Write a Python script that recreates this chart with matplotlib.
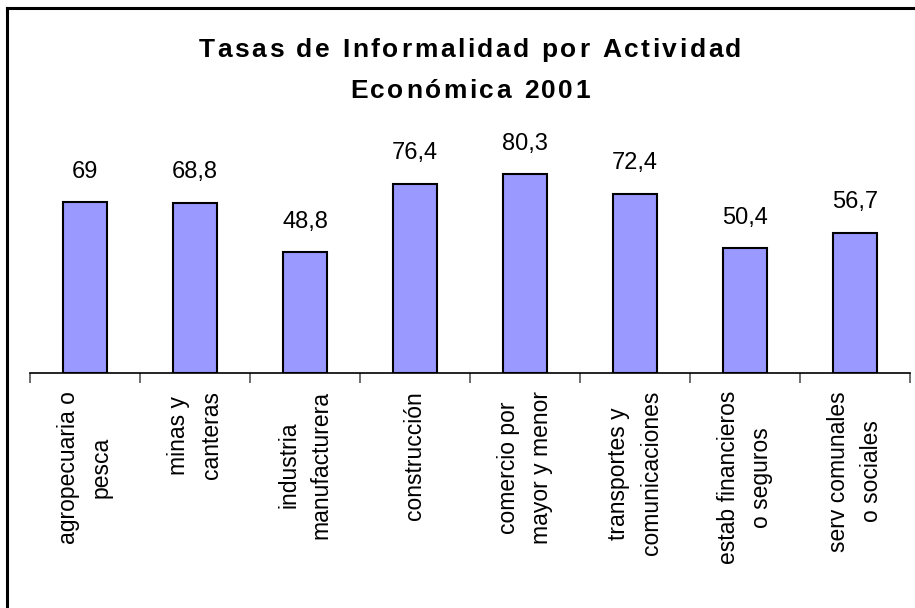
import matplotlib
matplotlib.use("Agg")
import matplotlib.pyplot as plt
from matplotlib.lines import Line2D
import numpy as np

categories = [
    "agropecuaria o\npesca",
    "minas y\ncanteras",
    "industria\nmanufacturera",
    "construcción",
    "comercio por\nmayor y menor",
    "transportes y\ncomunicaciones",
    "estab financieros\no seguros",
    "serv comunales\no sociales",
]
values = [69, 68.8, 48.8, 76.4, 80.3, 72.4, 50.4, 56.7]
title_lines = ["Tasas de Informalidad por Actividad", "Económica 2001"]

plt.rcParams["font.family"] = ["Liberation Sans", "DejaVu Sans"]

W, H = 915, 608
fig = plt.figure(figsize=(W / 100, H / 100), dpi=100)


def spaced_text(s, xc, y_base, gap, **kw):
    # draw a string char by char with extra letter spacing (Excel-like title)
    r = fig.canvas.get_renderer()
    widths = []
    for ch in s:
        t = fig.text(0, 0, ch, **kw)
        widths.append(t.get_window_extent(r).width)
        t.remove()
    total = sum(widths) + gap * (len(s) - 1)
    x = xc - total / 2
    for ch, w in zip(s, widths):
        fig.text(x / W, 1 - y_base / H, ch, ha="left", va="baseline", **kw)
        x += w + gap


# outer chart border (only left/top visible in the reference)
fig.add_artist(Line2D([7 / W, 7 / W], [0, 1 - 8 / H], color="black", lw=2.2))
fig.add_artist(Line2D([7 / W, 1], [1 - 8 / H, 1 - 8 / H], color="black", lw=2.2))

ax = fig.add_axes([30 / W, 1 - 373 / H, 880 / W, 223 / H])
x = np.arange(len(categories))
ax.bar(x, values, width=0.4, color="#9999FF", edgecolor="black", linewidth=1.5, zorder=3)

for xi, v in zip(x, values):
    label = f"{v:g}".replace(".", ",")
    ax.annotate(label, (xi, v), xytext=(0, 14), textcoords="offset points",
                ha="center", va="bottom", fontsize=17)

ax.set_xlim(-0.5, len(categories) - 0.5)
ax.set_ylim(0, 90)
ax.set_yticks([])
for s in ["top", "right", "left"]:
    ax.spines[s].set_visible(False)
ax.spines["bottom"].set_linewidth(1.2)

ax.set_xticks(x)
ax.set_xticklabels(categories, rotation=90, ha="center", va="top",
                   multialignment="center", fontsize=16.5, linespacing=1.53)
ax.tick_params(axis="x", which="major", length=0, pad=13)
ax.set_xticks(np.arange(len(categories) + 1) - 0.5, minor=True)
ax.tick_params(axis="x", which="minor", length=7, width=1.2, color="#555555")

spaced_text(title_lines[0], 470, 57, 2.6, fontsize=19, fontweight="bold")
spaced_text(title_lines[1], 470, 98, 2.6, fontsize=19, fontweight="bold")

fig.savefig("out.png", dpi=100)
